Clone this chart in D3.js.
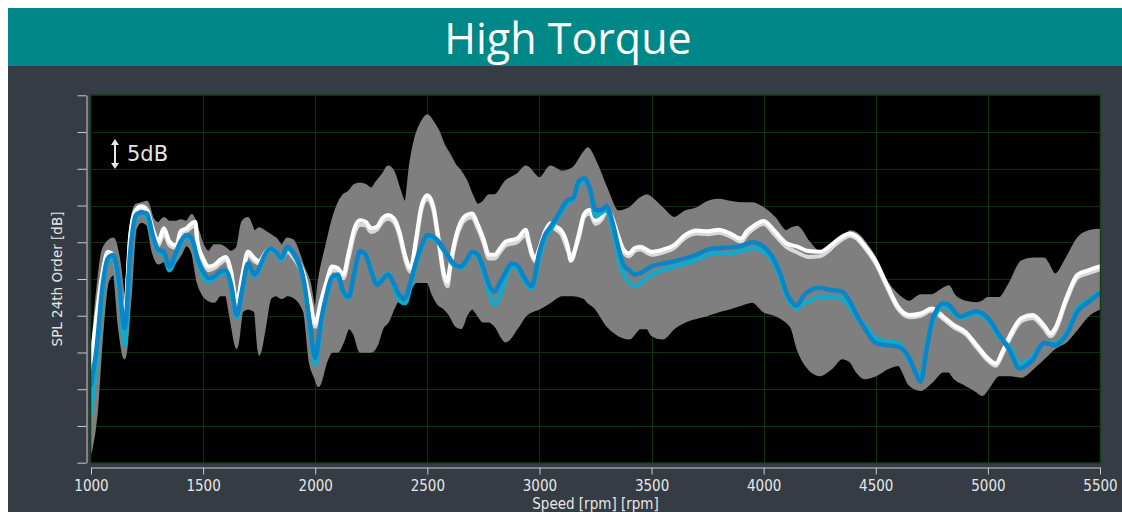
<!DOCTYPE html>
<html>
<head>
<meta charset="utf-8">
<script src="https://cdn.jsdelivr.net/npm/d3@7"></script>
<style>
  html, body { margin: 0; padding: 0; background: #ffffff; }
  svg { display: block; }
</style>
</head>
<body>
<svg id="chart" width="1122" height="512"></svg>
<script>
// ---- text ----
const chartTitle = "High Torque";
const xTitle = "Speed [rpm] [rpm]";
const yTitle = "SPL 24th Order [dB]";
const scaleNote = "5dB";

// ---- axes ----
const xTicks = [1000, 1500, 2000, 2500, 3000, 3500, 4000, 4500, 5000, 5500];
const yTicks = [30, 35, 40, 45, 50, 55, 60, 65, 70, 75, 80];

// ---- spread of all other runs: [rpm, min dB, max dB] ----
const fleetRange = [
  [1000,31.5,43.8],[1025,36.5,52.8],[1050,47.4,58.7],[1075,54.6,60.1],[1100,55.6,60.5],
  [1125,48.3,57.8],[1150,44.2,52.8],[1175,51.9,61.9],[1200,61.9,65.1],[1225,62.8,65.3],
  [1250,62.4,65.5],[1275,58.7,63.3],[1300,57.1,62.6],[1325,57.4,63.3],[1350,56.5,62.8],
  [1380,57.4,62.8],[1400,58.3,63.0],[1425,59.6,62.8],[1450,58.7,63.7],[1475,54.6,61.9],
  [1500,52.8,59.6],[1525,52.1,58.7],[1550,51.9,59.6],[1575,52.8,59.6],[1600,52.8,59.2],
  [1625,49.2,58.7],[1650,45.6,59.2],[1675,50.6,62.8],[1700,51.0,63.3],[1730,50.6,61.5],
  [1750,44.7,61.9],[1775,48.3,61.5],[1800,52.4,61.0],[1825,52.8,60.5],[1850,52.4,59.6],
  [1875,52.8,60.5],[1900,52.6,60.3],[1950,50.6,56.5],[1975,43.8,54.6],[2000,41.5,51.0],
  [2015,40.4,54.6],[2050,43.8,59.6],[2075,45.1,62.8],[2100,45.1,65.1],[2125,46.5,66.4],
  [2150,48.3,66.9],[2175,47.4,67.8],[2200,45.1,68.0],[2225,45.1,67.8],[2250,45.1,67.3],
  [2275,46.0,68.3],[2300,48.3,69.2],[2325,49.2,70.3],[2350,51.0,69.6],[2375,52.4,67.3],
  [2400,52.8,65.5],[2425,53.7,71.0],[2450,54.6,74.6],[2475,54.6,76.4],[2500,54.6,77.3],
  [2525,52.8,76.4],[2550,51.5,75.1],[2575,51.0,73.2],[2600,50.1,71.9],[2625,48.7,70.5],
  [2650,48.3,69.6],[2675,50.1,68.3],[2700,51.0,66.4],[2725,50.1,65.1],[2750,49.2,65.5],
  [2775,49.2,66.4],[2800,48.7,66.4],[2850,46.5,68.3],[2900,48.3,69.2],[2940,50.1,70.3],
  [3000,51.0,68.7],[3050,51.9,70.3],[3100,52.8,69.6],[3150,52.8,70.1],[3200,52.4,72.3],
  [3215,51.9,72.8],[3250,51.0,71.0],[3300,48.7,67.3],[3350,47.4,64.2],[3400,46.9,64.6],
  [3450,48.3,66.0],[3480,48.3,66.4],[3500,47.4,66.0],[3550,46.9,64.6],[3600,48.3,63.3],
  [3650,49.2,64.2],[3700,49.7,64.6],[3750,50.1,65.5],[3800,50.6,65.8],[3850,51.0,65.5],
  [3900,51.5,65.3],[3950,51.9,65.3],[4000,50.6,64.6],[4050,50.1,63.3],[4100,49.2,61.5],
  [4125,48.3,61.9],[4150,45.6,62.1],[4200,42.8,60.1],[4250,41.9,58.7],[4300,42.8,58.7],
  [4350,44.2,60.1],[4385,43.8,61.5],[4415,42.4,61.2],[4450,41.5,60.1],[4500,41.9,57.8],
  [4550,42.8,54.6],[4600,43.3,52.8],[4650,40.6,51.9],[4700,39.9,52.8],[4750,41.0,52.8],
  [4800,42.4,53.7],[4825,42.4,54.0],[4850,41.5,52.8],[4900,40.6,51.9],[4950,39.7,51.7],
  [4975,39.2,51.9],[5000,40.1,52.4],[5050,41.9,52.4],[5100,41.9,54.6],[5150,41.7,57.4],
  [5200,42.8,57.8],[5250,44.2,57.8],[5300,45.6,55.6],[5350,46.5,57.8],[5400,48.3,60.5],
  [5450,50.1,61.5],[5500,51.0,61.7]
];

// ---- reference runs (white) : [rpm, dB] ----
const referenceA = [
  [1000,43.8],[1025,50.1],[1050,55.6],[1075,58.7],[1100,58.3],[1125,54.2],[1150,50.1],
  [1175,61.0],[1200,64.4],[1225,64.9],[1250,64.4],[1275,61.9],[1300,60.1],[1325,61.9],
  [1350,60.1],[1380,59.6],[1400,61.5],[1425,61.9],[1450,62.6],[1465,62.8],[1475,60.1],
  [1500,57.8],[1525,56.7],[1550,56.9],[1575,57.6],[1600,58.0],[1625,56.0],[1650,51.9],
  [1675,55.6],[1700,58.7],[1730,57.8],[1750,57.4],[1775,58.5],[1800,59.2],[1825,58.7],
  [1850,57.8],[1875,59.2],[1900,58.4],[1950,55.6],[1975,52.4],[2000,49.0],[2025,51.9],
  [2050,54.6],[2075,56.7],[2100,56.5],[2125,55.6],[2150,58.7],[2175,61.9],[2200,63.0],
  [2225,62.8],[2250,61.9],[2275,62.1],[2300,63.3],[2325,63.7],[2350,63.3],[2375,61.5],
  [2400,58.3],[2425,56.5],[2450,60.5],[2475,65.1],[2500,66.4],[2525,65.1],[2550,60.5],
  [2575,55.6],[2590,54.6],[2600,56.5],[2625,60.5],[2650,62.8],[2675,63.7],[2700,63.9],
  [2725,62.4],[2750,60.5],[2775,58.3],[2800,58.3],[2825,59.2],[2850,60.1],[2900,60.5],
  [2940,61.7],[2950,60.5],[2965,58.7],[2980,57.8],[3000,59.2],[3025,61.5],[3050,62.6],
  [3075,62.1],[3100,61.5],[3125,59.6],[3140,57.5],[3175,61.0],[3200,63.9],[3225,64.4],
  [3250,63.0],[3275,63.5],[3300,64.7],[3325,63.3],[3350,61.0],[3375,59.0],[3400,58.5],
  [3425,59.2],[3450,59.4],[3500,58.7],[3550,59.0],[3600,59.6],[3650,61.0],[3700,61.6],
  [3750,61.5],[3800,61.7],[3850,61.2],[3900,60.5],[3925,61.5],[3950,62.1],[4000,62.9],
  [4050,61.5],[4100,59.9],[4150,59.4],[4200,58.8],[4250,58.7],[4300,59.6],[4350,60.8],
  [4385,61.2],[4415,60.8],[4450,59.6],[4500,57.4],[4550,54.2],[4600,51.2],[4650,50.1],
  [4700,50.3],[4750,51.0],[4800,49.9],[4850,48.7],[4900,47.8],[4950,46.0],[5000,44.2],
  [5035,43.5],[5065,45.1],[5100,47.4],[5150,49.7],[5200,50.1],[5250,48.7],[5280,47.6],
  [5300,48.3],[5350,52.4],[5400,55.6],[5450,56.2],[5500,56.7]
];
const referenceB = [
  [1000,42.0],[1025,49.2],[1050,55.1],[1075,58.3],[1100,58.0],[1125,53.7],[1150,49.2],
  [1175,60.5],[1200,64.0],[1225,64.6],[1250,64.0],[1275,61.5],[1300,59.6],[1325,61.2],
  [1350,59.6],[1380,59.2],[1400,61.0],[1425,61.5],[1450,62.1],[1465,62.4],[1475,59.6],
  [1500,57.4],[1525,56.2],[1550,56.5],[1575,57.1],[1600,57.6],[1625,55.6],[1650,51.2],
  [1675,55.1],[1700,58.3],[1730,57.4],[1750,57.1],[1775,58.2],[1800,59.0],[1825,58.5],
  [1850,57.6],[1875,58.8],[1900,58.0],[1950,55.1],[1975,52.0],[2000,48.5],[2025,51.5],
  [2050,54.2],[2075,56.2],[2100,56.0],[2125,55.1],[2150,58.0],[2175,61.2],[2200,62.4],
  [2225,62.3],[2250,61.4],[2275,61.7],[2300,62.8],[2325,63.2],[2350,62.8],[2375,61.0],
  [2400,57.8],[2425,56.0],[2450,60.0],[2475,64.6],[2500,65.9],[2525,64.6],[2550,60.0],
  [2575,55.1],[2590,54.0],[2600,56.0],[2625,60.0],[2650,62.3],[2675,63.2],[2700,63.4],
  [2725,61.9],[2750,60.0],[2775,57.8],[2800,57.8],[2825,58.7],[2850,59.6],[2900,60.0],
  [2940,61.0],[2950,60.0],[2965,58.3],[2980,57.4],[3000,58.7],[3025,61.0],[3050,62.1],
  [3075,61.7],[3100,61.0],[3125,59.0],[3140,58.2],[3175,60.5],[3200,63.5],[3225,63.9],
  [3250,62.5],[3275,63.0],[3300,64.2],[3325,62.8],[3350,60.5],[3375,58.6],[3400,58.1],
  [3425,58.8],[3450,59.0],[3500,58.3],[3550,58.6],[3600,59.2],[3650,60.6],[3700,61.2],
  [3750,61.1],[3800,61.3],[3850,60.8],[3900,60.1],[3925,61.0],[3950,61.7],[4000,62.5],
  [4050,61.0],[4100,59.4],[4150,58.6],[4200,58.0],[4250,58.1],[4300,59.1],[4350,60.4],
  [4385,60.9],[4415,60.5],[4450,59.3],[4500,57.1],[4550,53.9],[4600,50.9],[4650,49.8],
  [4700,50.0],[4750,50.7],[4800,49.6],[4850,48.4],[4900,47.5],[4950,45.7],[5000,43.9],
  [5035,43.2],[5065,44.8],[5100,47.0],[5150,49.3],[5200,49.7],[5250,48.3],[5280,47.2],
  [5300,47.9],[5350,52.0],[5400,55.2],[5450,55.8],[5500,56.3]
];

// ---- runs under test (blue / cyan) : [rpm, dB] ----
const testRunBlue = [
  [1000,40.6],[1025,45.6],[1050,53.7],[1075,57.8],[1100,58.3],[1125,54.6],[1150,48.3],
  [1175,58.7],[1200,63.7],[1225,64.1],[1250,63.9],[1275,61.0],[1300,59.0],[1325,58.7],
  [1350,56.7],[1380,58.7],[1400,60.1],[1425,61.0],[1450,60.5],[1475,57.8],[1500,56.0],
  [1525,55.1],[1550,55.3],[1575,56.0],[1600,56.2],[1625,54.2],[1650,50.1],[1675,53.7],
  [1700,57.1],[1730,55.6],[1750,56.5],[1775,58.3],[1800,59.2],[1825,58.7],[1850,57.9],
  [1875,59.4],[1900,58.7],[1950,54.6],[1975,49.2],[2000,44.2],[2025,49.2],[2050,52.8],
  [2075,55.3],[2100,55.6],[2125,53.3],[2150,52.6],[2175,56.0],[2200,58.8],[2225,58.3],
  [2250,56.0],[2275,54.2],[2300,54.9],[2325,55.6],[2350,54.4],[2375,52.8],[2400,52.4],
  [2425,54.6],[2450,57.4],[2475,59.6],[2500,61.0],[2525,60.8],[2550,60.1],[2575,59.0],
  [2600,57.8],[2625,56.9],[2650,56.7],[2675,57.6],[2700,58.7],[2725,58.3],[2750,56.5],
  [2775,54.2],[2800,53.3],[2825,54.6],[2850,56.0],[2875,57.1],[2900,56.9],[2925,55.6],
  [2950,54.4],[2965,54.0],[3000,58.7],[3025,61.0],[3050,62.1],[3075,63.3],[3100,64.6],
  [3125,65.7],[3150,66.0],[3175,68.3],[3200,68.7],[3225,67.3],[3250,64.4],[3275,64.4],
  [3300,64.9],[3325,62.8],[3350,59.6],[3375,56.9],[3400,56.2],[3425,55.6],[3450,55.8],
  [3500,56.7],[3550,57.1],[3600,57.4],[3650,57.8],[3700,58.3],[3750,59.0],[3800,59.2],
  [3850,59.3],[3900,59.5],[3950,60.0],[4000,59.4],[4050,57.4],[4075,55.6],[4100,53.3],
  [4125,51.9],[4150,51.4],[4175,52.6],[4200,53.3],[4250,53.8],[4300,53.5],[4350,53.3],
  [4385,51.9],[4415,50.1],[4450,48.3],[4500,46.3],[4550,46.0],[4600,45.8],[4650,44.2],
  [4675,42.4],[4700,41.0],[4725,45.1],[4750,49.2],[4775,51.0],[4800,51.7],[4825,51.5],
  [4850,50.6],[4875,49.9],[4900,50.1],[4950,50.6],[4975,50.3],[5000,49.7],[5050,47.4],
  [5100,45.1],[5140,42.8],[5175,43.3],[5200,44.0],[5250,46.3],[5300,46.0],[5350,47.4],
  [5400,50.6],[5450,51.9],[5500,53.1]
];
const testRunCyan = [
  [1000,36.5],[1025,44.0],[1050,52.8],[1075,57.4],[1100,57.8],[1125,53.7],[1150,46.0],
  [1175,57.8],[1200,63.3],[1225,63.9],[1250,63.5],[1275,60.5],[1300,58.7],[1325,58.3],
  [1350,56.2],[1380,58.3],[1400,59.6],[1425,60.8],[1450,60.1],[1475,57.4],[1500,55.3],
  [1525,54.6],[1550,55.1],[1575,55.6],[1600,56.0],[1625,53.7],[1650,49.7],[1675,53.3],
  [1700,56.7],[1730,55.3],[1750,56.2],[1775,58.0],[1800,59.0],[1825,58.5],[1850,57.6],
  [1875,59.2],[1900,58.5],[1950,54.2],[1975,48.7],[2000,43.3],[2025,48.7],[2050,52.4],
  [2075,55.1],[2100,55.3],[2125,53.1],[2150,52.4],[2175,55.8],[2200,58.5],[2225,58.3],
  [2250,56.2],[2275,54.4],[2300,55.1],[2325,55.8],[2350,54.0],[2375,52.1],[2400,51.7],
  [2425,54.0],[2450,57.1],[2475,59.2],[2500,60.8],[2525,60.5],[2550,59.9],[2575,58.8],
  [2600,57.6],[2625,56.7],[2650,56.5],[2675,57.4],[2700,58.5],[2725,58.0],[2750,56.0],
  [2775,53.3],[2800,51.5],[2825,52.8],[2850,55.1],[2875,56.7],[2900,56.5],[2925,55.1],
  [2950,54.0],[2965,53.7],[3000,57.8],[3025,60.5],[3050,61.7],[3075,63.0],[3100,64.2],
  [3125,65.3],[3150,65.8],[3175,67.8],[3200,68.3],[3225,67.1],[3250,63.5],[3275,64.0],
  [3300,64.4],[3325,61.9],[3350,58.3],[3375,55.6],[3400,54.6],[3425,54.0],[3450,54.4],
  [3500,55.6],[3550,56.2],[3600,56.7],[3650,57.1],[3700,57.6],[3750,58.3],[3800,58.5],
  [3850,58.5],[3900,58.8],[3950,59.2],[4000,58.7],[4050,56.9],[4075,55.1],[4100,52.8],
  [4125,51.5],[4150,51.0],[4175,51.7],[4200,51.9],[4250,52.6],[4300,52.6],[4350,52.3],
  [4385,51.2],[4415,49.7],[4450,48.7],[4500,46.9],[4550,46.5],[4600,46.3],[4650,43.8],
  [4675,42.6],[4700,41.5],[4725,45.6],[4750,48.7],[4775,50.6],[4800,51.2],[4825,51.0],
  [4850,50.3],[4875,49.7],[4900,49.9],[4950,50.3],[4975,50.0],[5000,49.4],[5050,47.1],
  [5100,45.6],[5140,43.5],[5175,43.8],[5200,44.4],[5250,46.3],[5300,46.3],[5350,47.6],
  [5400,51.0],[5450,52.1],[5500,53.3]
];

// ---- layout ----
const W = 1122, H = 512;
const panel = { x: 8, y: 8, w: W - 8, h: H - 8, header: 58 };
const plot = { left: 91, right: 1100, top: 95.3, bottom: 462.7 };

const svg = d3.select("#chart");

// header band and dark panel
svg.append("rect").attr("x", panel.x).attr("y", panel.y + panel.header)
  .attr("width", panel.w).attr("height", panel.h - panel.header).attr("fill", "#353c43");
svg.append("rect").attr("x", panel.x).attr("y", panel.y)
  .attr("width", panel.w).attr("height", panel.header).attr("fill", "#008787");
svg.append("text")
  .attr("x", panel.x + panel.w / 2 + 3).attr("y", panel.y + panel.header / 2)
  .attr("text-anchor", "middle").attr("dominant-baseline", "central")
  .attr("font-family", "'Open Sans', sans-serif").attr("font-size", 43)
  .attr("fill", "#ffffff").text(chartTitle);

// scales
const x = d3.scaleLinear().domain([1000, 5500]).range([plot.left, plot.right]);
const y = d3.scaleLinear().domain([30, 80]).range([plot.bottom, plot.top]);

// plot background
svg.append("rect").attr("x", plot.left).attr("y", plot.top)
  .attr("width", plot.right - plot.left).attr("height", plot.bottom - plot.top)
  .attr("fill", "#000000");

// grid
const grid = svg.append("g").attr("stroke", "#0f330f").attr("stroke-width", 1);
grid.selectAll("line.v").data(xTicks.slice(1, -1)).join("line")
  .attr("x1", d => Math.round(x(d)) + 0.5).attr("x2", d => Math.round(x(d)) + 0.5)
  .attr("y1", plot.top).attr("y2", plot.bottom);
grid.selectAll("line.h").data(yTicks.slice(1, -1)).join("line")
  .attr("y1", d => Math.round(y(d)) + 0.5).attr("y2", d => Math.round(y(d)) + 0.5)
  .attr("x1", plot.left).attr("x2", plot.right);

// clip for the curves
svg.append("clipPath").attr("id", "plotClip").append("rect")
  .attr("x", plot.left).attr("y", plot.top)
  .attr("width", plot.right - plot.left).attr("height", plot.bottom - plot.top);
const layer = svg.append("g").attr("clip-path", "url(#plotClip)");

// spread band
const band = d3.area().x(d => x(d[0])).y0(d => y(d[1])).y1(d => y(d[2]))
  .curve(d3.curveMonotoneX);
layer.append("path").datum(fleetRange).attr("d", band)
  .attr("fill", "#7f7f7f").attr("stroke", "#7f7f7f").attr("stroke-width", 2)
  .attr("stroke-linejoin", "round");

// runs
const line = d3.line().x(d => x(d[0])).y(d => y(d[1])).curve(d3.curveMonotoneX);
const runs = [
  { data: referenceB, color: "#d9d9d9", width: 4 },
  { data: referenceA, color: "#ffffff", width: 4 },
  { data: testRunCyan, color: "#14a9c9", width: 4.5 },
  { data: testRunBlue, color: "#0a86c8", width: 4.5 }
];
layer.selectAll("path.run").data(runs).join("path").attr("class", "run")
  .attr("d", d => line(d.data)).attr("fill", "none")
  .attr("stroke", d => d.color).attr("stroke-width", d => d.width)
  .attr("stroke-linejoin", "round").attr("stroke-linecap", "round");

// plot frame
svg.append("rect").attr("x", plot.left - 0.5).attr("y", plot.top - 0.5)
  .attr("width", plot.right - plot.left + 1).attr("height", plot.bottom - plot.top + 1)
  .attr("fill", "none").attr("stroke", "#17401a").attr("stroke-width", 1.5);

// y axis (ticks only)
const yAxis = svg.append("g").attr("transform", "translate(86.5,0)")
  .call(d3.axisLeft(y).tickValues(yTicks).tickFormat("").tickSize(9).tickSizeOuter(0));
yAxis.selectAll("path, line").attr("stroke", "#c9c9c9");

// x axis
const xAxis = svg.append("g").attr("transform", "translate(0,467.5)")
  .call(d3.axisBottom(x).tickValues(xTicks).tickFormat(d3.format("d"))
    .tickSize(7).tickSizeOuter(0).tickPadding(6));
xAxis.selectAll("path, line").attr("stroke", "#c9c9c9");
xAxis.selectAll("text").attr("fill", "#e6e6e6")
  .attr("font-family", "'DejaVu Sans Condensed', 'DejaVu Sans', sans-serif")
  .attr("font-size", 15);

// axis titles
svg.append("text")
  .attr("x", (plot.left + plot.right) / 2).attr("y", 504)
  .attr("text-anchor", "middle").attr("dominant-baseline", "central")
  .attr("font-family", "'DejaVu Sans Condensed', 'DejaVu Sans', sans-serif")
  .attr("font-size", 15).attr("fill", "#e6e6e6").text(xTitle);
svg.append("text")
  .attr("transform", `translate(57,${(plot.top + plot.bottom) / 2}) rotate(-90)`)
  .attr("text-anchor", "middle").attr("dominant-baseline", "central")
  .attr("font-family", "'DejaVu Sans', sans-serif")
  .attr("font-size", 13.5).attr("fill", "#e6e6e6").text(yTitle);

// level-scale marker
const marker = svg.append("g").attr("transform", "translate(115,154)");
marker.append("line").attr("x1", 0).attr("x2", 0).attr("y1", -11).attr("y2", 11)
  .attr("stroke", "#e6e6e6").attr("stroke-width", 2);
marker.append("path").attr("d", "M-4,-9 L0,-15 L4,-9 Z M-4,9 L0,15 L4,9 Z")
  .attr("fill", "#e6e6e6");
marker.append("text").attr("x", 12).attr("y", 0)
  .attr("dominant-baseline", "central")
  .attr("font-family", "'DejaVu Sans', sans-serif").attr("font-size", 21)
  .attr("fill", "#e6e6e6").text(scaleNote);
</script>
</body>
</html>
